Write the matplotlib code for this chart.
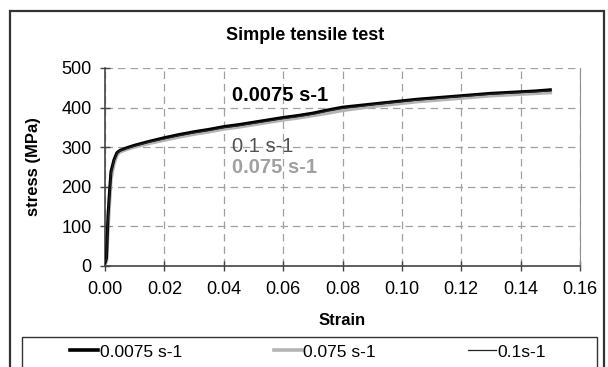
import matplotlib
matplotlib.use("Agg")
import matplotlib.pyplot as plt
from matplotlib.patches import Rectangle
from matplotlib.lines import Line2D

plt.rcParams['font.family'] = ['Liberation Sans', 'DejaVu Sans']

strain = [0, 0.0005, 0.001, 0.0015, 0.002, 0.003, 0.004, 0.005, 0.0075, 0.01,
          0.015, 0.02, 0.025, 0.03, 0.035, 0.04, 0.045, 0.05, 0.055, 0.06,
          0.065, 0.07, 0.075, 0.08, 0.085, 0.09, 0.095, 0.10, 0.105, 0.11,
          0.115, 0.12, 0.125, 0.13, 0.135, 0.14, 0.145, 0.15]
stress_00075 = [8, 20, 125, 185, 238, 268, 286, 292, 299, 305,
                315, 324, 332, 339, 345, 352, 357, 363, 369, 375,
                380, 386, 394, 401, 405, 409, 413, 417, 421, 424,
                427, 430, 433, 436, 438, 440, 442, 445]
stress_0075 = [5, 12, 95, 160, 220, 258, 280, 288, 295, 301,
               310, 318, 326, 333, 339, 346, 351, 357, 363, 369,
               374, 380, 386, 393, 398, 403, 407, 411, 415, 418,
               421, 424, 427, 430, 432, 434, 436, 438]
stress_01 = [10, 18, 115, 175, 232, 265, 284, 291, 297, 303,
             313, 321, 329, 336, 342, 349, 354, 360, 366, 372,
             377, 383, 391, 398, 402, 407, 411, 415, 419, 422,
             425, 428, 431, 434, 436, 438, 440, 442]

xticks = [0.00, 0.02, 0.04, 0.06, 0.08, 0.10, 0.12, 0.14, 0.16]
yticks = [0, 100, 200, 300, 400, 500]

W, H = 608, 367
fig = plt.figure(figsize=(W / 100, H / 100), dpi=100)
L, R, T, B = 105, 580, 68, 266
ax = fig.add_axes([L / W, 1 - B / H, (R - L) / W, (B - T) / H])

ax.plot(strain, stress_0075, color='#b4b4b4', lw=2.6, label='0.075 s-1', zorder=2)
ax.plot(strain, stress_00075, color='black', lw=2.2, label='0.0075 s-1', zorder=3)
ax.plot(strain, stress_01, color='#222222', lw=0.9, label='0.1s-1', zorder=4)

ax.set_xlim(0, 0.16)
ax.set_ylim(0, 500)
ax.set_xticks(xticks)
ax.set_xticklabels([f"{v:.2f}" for v in xticks])
ax.set_yticks(yticks)
ax.tick_params(labelsize=13, width=1, color='#444444')
ax.tick_params(axis='x', direction='inout', length=7, pad=7)
ax.tick_params(axis='y', direction='inout', length=7, pad=6)
ax.grid(True, color='#a0a0a0', linestyle=(0, (6, 4)), lw=0.9)
ax.spines['top'].set_visible(False)
ax.spines['right'].set_color('#909090')
ax.spines['left'].set_color('#444444')
ax.spines['bottom'].set_color('#444444')
ax.spines['left'].set_linewidth(1.2)
ax.spines['bottom'].set_linewidth(1.2)

ax.set_xlabel('Strain', fontsize=12, fontweight='bold', labelpad=11)
ax.set_ylabel('stress (MPa)', fontsize=12, fontweight='bold', labelpad=15)
fig.text(305 / W, 1 - 36 / H, 'Simple tensile test', fontsize=13, fontweight='bold',
         ha='center', va='center')

ax.text(0.0429, 430, '0.0075 s-1', fontsize=14.5, fontweight='bold', color='black', va='center')
ax.text(0.0429, 301, '0.1 s-1', fontsize=14.5, color='#505050', va='center')
ax.text(0.0429, 248, '0.075 s-1', fontsize=14.5, fontweight='bold', color='#a0a0a0', va='center')

# outer chart border
fig.patches.append(Rectangle((10 / W, -0.05), 594 / W, 1.05 - 11 / H, transform=fig.transFigure,
                             fill=False, edgecolor='#333333', lw=1.6))
# legend frame
fig.patches.append(Rectangle((22 / W, -0.05), 575 / W, 0.05 + 1 - 337 / H, transform=fig.transFigure,
                             fill=False, edgecolor='#333333', lw=1.0))

handles = [Line2D([], [], color='black', lw=2.6),
           Line2D([], [], color='#b4b4b4', lw=2.6),
           Line2D([], [], color='#222222', lw=0.9)]
labels = ['0.0075 s-1', '0.075 s-1', '0.1s-1']
fig.legend(handles, labels, loc='center left', bbox_to_anchor=(70 / W, 1 - 352 / H),
           ncol=3, frameon=False, fontsize=12.5, handlelength=1.6, handletextpad=0.1,
           columnspacing=5.3, borderpad=0, borderaxespad=0)

fig.savefig('out.png', dpi=100)
